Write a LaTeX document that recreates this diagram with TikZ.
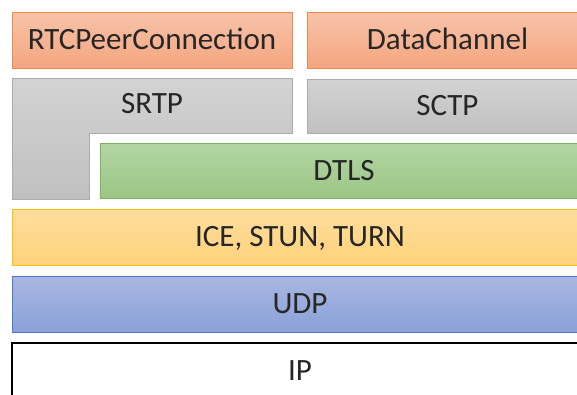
\documentclass[tikz,border=0pt]{standalone}
\usepackage{fontspec}
\setmainfont{Carlito}
\definecolor{orangetop}{HTML}{F8C3A9}
\definecolor{orangebot}{HTML}{F4A57F}
\definecolor{orangeline}{HTML}{EE8A4E}
\definecolor{graytop}{HTML}{D3D3D3}
\definecolor{graybot}{HTML}{C0C0C0}
\definecolor{grayline}{HTML}{ABABAB}
\definecolor{greentop}{HTML}{B3D5A4}
\definecolor{greenbot}{HTML}{9CC684}
\definecolor{greenline}{HTML}{7EB35E}
\definecolor{yellowtop}{HTML}{FFDD9E}
\definecolor{yellowbot}{HTML}{FFD27B}
\definecolor{yellowline}{HTML}{FFC000}
\definecolor{bluetop}{HTML}{A9B7E1}
\definecolor{bluebot}{HTML}{8AA1D8}
\definecolor{blueline}{HTML}{4B78C8}
\begin{document}
\begin{tikzpicture}[x=1pt,y=-1pt,
  label text/.style={font=\fontsize{31}{37}\selectfont,text=black!85,
    text height=19.5pt,text depth=0pt},
  layer/.style={label text,draw,line width=1pt,inner sep=0pt},
  orangebox/.style={draw=orangeline,top color=orangetop,bottom color=orangebot},
  graybox/.style={draw=grayline,top color=graytop,bottom color=graybot},
  greenbox/.style={draw=greenline,top color=greentop,bottom color=greenbot},
  yellowbox/.style={draw=yellowline,top color=yellowtop,bottom color=yellowbot},
  bluebox/.style={draw=blueline,top color=bluetop,bottom color=bluebot}]
\useasboundingbox (0,0) rectangle (577,394);
\clip (0,0) rectangle (577,394);
\node[layer,orangebox,minimum width=280,minimum height=56] (rtc) at (152,40) {RTCPeerConnection};
\node[layer,orangebox,minimum width=281,minimum height=56] (dc) at (447.5,40) {DataChannel};
\draw[graybox,line width=1pt] (12,78) -- (292,78) -- (292,133) -- (89,133) -- (89,199) -- (12,199) -- cycle;
\node[label text] (srtp) at (152,103.5) {SRTP};
\node[layer,graybox,minimum width=281,minimum height=54] (sctp) at (447.5,106) {SCTP};
\node[layer,greenbox,minimum width=488,minimum height=55] (dtls) at (344,170.5) {DTLS};
\node[layer,yellowbox,minimum width=576,minimum height=56] (ice) at (300,237) {ICE, STUN, TURN};
\node[layer,bluebox,minimum width=576,minimum height=56] (udp) at (300,304) {UDP};
\node[layer,draw=black,fill=white,line width=1.3pt,minimum width=576,minimum height=56] (ip) at (300,371) {IP};
\end{tikzpicture}
\end{document}
